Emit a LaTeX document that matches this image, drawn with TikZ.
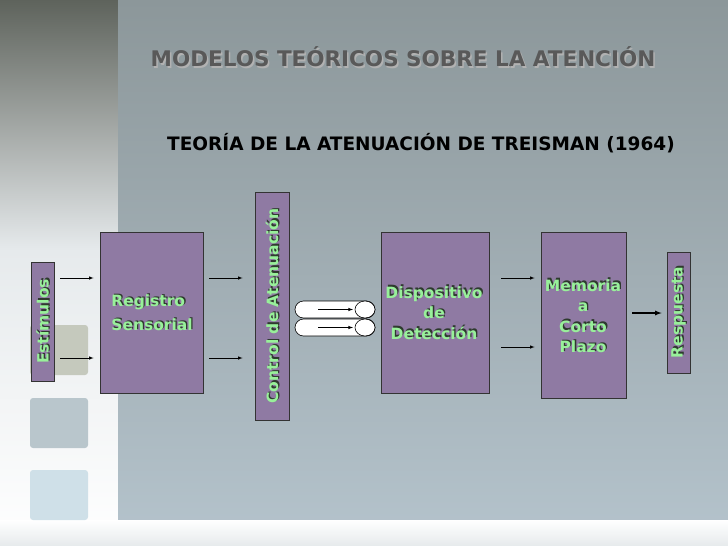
\documentclass[tikz,border=0pt]{standalone}
\usepackage{fontspec}
\setmainfont{DejaVu Sans}
\tikzset{
  box/.style={draw=black!80,fill=boxc,line width=0.8pt,inner sep=0pt},
  lbl/.style={font=\bfseries\fontsize{15.5}{20.5}\selectfont,align=center,inner sep=0pt},
  arr/.style={-latex,line width=0.6pt},
}
\definecolor{boxc}{HTML}{8F7AA3}
\definecolor{txtg}{HTML}{98F09A}
\definecolor{shd}{HTML}{2E3A2E}
\definecolor{pantop}{HTML}{8C979A}
\definecolor{panbot}{HTML}{B6C5CE}
\definecolor{lefttop}{HTML}{5E635C}
\definecolor{leftmid}{HTML}{E6EAEC}
\definecolor{sqa}{HTML}{C5C9BD}
\definecolor{sqb}{HTML}{B9C6CC}
\definecolor{sqc}{HTML}{CFE0E8}
\newcommand{\mylbl}[4][]{%
  \node[lbl,text=shd,#1] at ([shift={(1.3,-1.3)}]#3) {#4};
  \node[lbl,text=txtg,#1] (#2) at (#3) {#4};}
\begin{document}
\begin{tikzpicture}[x=1pt,y=-1pt]
\useasboundingbox (0,0) rectangle (728,546);
% background
\fill[leftmid] (0,0) rectangle (728,546);
\shade[top color=lefttop,bottom color=leftmid] (0,0) rectangle (118,250);
\shade[top color=leftmid, bottom color=white] (0,250) rectangle (118,546);
\shade[top color=pantop, bottom color=panbot]
  (118,0) -- (728,0) -- (728,520) -- (160,520) arc[start angle=270,end angle=180,radius=42] -- cycle;
\shade[top color=white, bottom color=leftmid] (0,520) rectangle (728,546);
\foreach \y/\c in {325/sqa, 398/sqb, 470/sqc}
  \fill[\c,rounded corners=3] (30,\y) rectangle (88,\y+50);
% titles
\node[font=\bfseries\fontsize{21.5}{24}\selectfont,text=black!30] at (404.5,58.5) {MODELOS TEÓRICOS SOBRE LA ATENCIÓN};
\node[font=\bfseries\fontsize{21.5}{24}\selectfont,text=black!65] (title) at (403,57) {MODELOS TEÓRICOS SOBRE LA ATENCIÓN};
\node[font=\bfseries\fontsize{18.5}{20}\selectfont] (sub) at (421,143) {TEORÍA DE LA ATENUACIÓN DE TREISMAN (1964)};
% boxes
\node[box,minimum width=23,minimum height=119] (est) at (42.5,321.5) {};
\node[box,minimum width=103,minimum height=161] (reg) at (151.5,312.5) {};
\node[box,minimum width=34,minimum height=228] (ctl) at (272,306) {};
\node[box,minimum width=108,minimum height=161] (det) at (435,312.5) {};
\node[box,minimum width=85,minimum height=166] (mem) at (583.5,315) {};
\node[box,minimum width=23,minimum height=121] (res) at (678.5,312.5) {};
% labels
\mylbl[rotate=90]{estl}{est.center}{Estímulos}
\mylbl[align=left,font=\bfseries\fontsize{15.5}{24}\selectfont]{regl}{152,313}{Registro\\Sensorial}
\mylbl[rotate=90]{ctll}{ctl.center}{Control de Atenuación}
\mylbl{detl}{434,313}{Dispositivo\\de\\Detección}
\mylbl{meml}{583,316}{Memoria\\a\\Corto\\Plazo}
\mylbl[rotate=90]{resl}{res.center}{Respuesta}
% cylinders
\foreach \n/\y in {1/309.5,2/327.5}{
  \draw[fill=white,line width=0.6pt,rounded corners=8.5] (295,\y-8.5) rectangle (375,\y+8.5);
  \draw[fill=white,line width=0.6pt] (365,\y) ellipse[x radius=10,y radius=8.5];
  \coordinate (cs\n) at (318,\y); \coordinate (ce\n) at (353,\y);
  \draw[arr] (cs\n) -- (ce\n);
}
% arrows
\foreach \y in {278,358}{
  \draw[arr] (est.east|-0,\y) ++(6,0) -- ([xshift=-6]reg.west|-0,\y);
  \draw[arr] (reg.east|-0,\y) ++(6,0) -- ([xshift=-12]ctl.west|-0,\y);
}
\draw[arr] ([xshift=12]det.east|-0,278) -- ([xshift=-6]mem.west|-0,278);
\draw[arr] ([xshift=12]det.east|-0,347) -- ([xshift=-6]mem.west|-0,347);
\draw[arr,line width=1.2pt] ([xshift=6]mem.east|-0,313) -- ([xshift=-5]res.west|-0,313);
\end{tikzpicture}
\end{document}
